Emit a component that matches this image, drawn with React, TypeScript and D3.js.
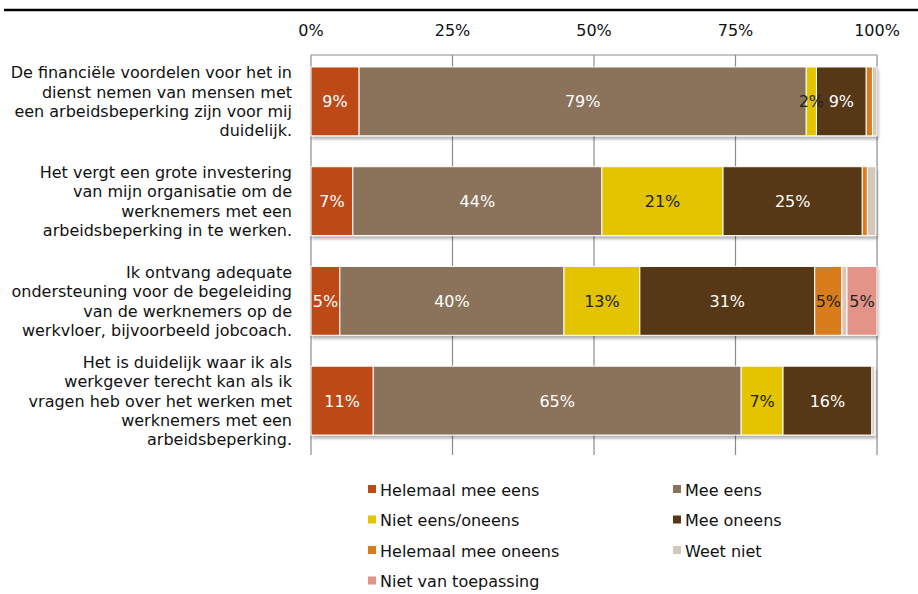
import React from "react";
import * as d3 from "d3";

const categories = [
  ["De financiële voordelen voor het in", "dienst nemen van mensen met", "een arbeidsbeperking zijn voor mij", "duidelijk."],
  ["Het vergt een grote investering", "van mijn organisatie om de", "werknemers met een", "arbeidsbeperking in te werken."],
  ["Ik ontvang adequate", "ondersteuning voor de begeleiding", "van de werknemers op de", "werkvloer, bijvoorbeeld jobcoach."],
  ["Het is duidelijk waar ik als", "werkgever terecht kan als ik", "vragen heb over het werken met", "werknemers met een", "arbeidsbeperking."],
];

const seriesNames = [
  "Helemaal mee eens",
  "Mee eens",
  "Niet eens/oneens",
  "Mee oneens",
  "Helemaal mee oneens",
  "Weet niet",
  "Niet van toepassing",
];
const seriesColors = ["#BD4A17", "#8A735A", "#E2C400", "#573715", "#D97B1F", "#D3C8B9", "#E39489"];
const labelColors = ["#fff", "#fff", "#222", "#fff", "#222", "#222", "#222"];

const helemaalMeeEens = [8.5, 7.4, 5.1, 11.0];
const meeEens = [79.0, 44.0, 39.6, 65.0];
const nietEensOneens = [1.8, 21.4, 13.4, 7.4];
const meeOneens = [8.8, 24.6, 30.9, 15.7];
const helemaalMeeOneens = [1.1, 0.9, 4.8, 0];
const weetNiet = [0.8, 1.5, 0.9, 0.5];
const nietVanToepassing = [0, 0, 5.3, 0];

const tickValues = [0, 25, 50, 75, 100];

const seriesValues = [helemaalMeeEens, meeEens, nietEensOneens, meeOneens, helemaalMeeOneens, weetNiet, nietVanToepassing];

export default function App() {
  const W = 918, H = 594;
  const x = d3.scaleLinear().domain([0, 100]).range([311, 877]);
  const y = d3.scaleBand<number>().domain(d3.range(categories.length)).range([55, 447]).paddingInner(0.31).paddingOuter(0.12);
  const font = "Verdana, 'DejaVu Sans', sans-serif";

  const stack = categories.map((_, i) => {
    let acc = 0;
    return seriesValues.map((s, k) => {
      const v = s[i];
      const seg = { k, x0: acc, x1: acc + v, v };
      acc += v;
      return seg;
    });
  });

  const legendPos = seriesNames.map((_, k) => ({
    x: k % 2 === 0 ? 368 : 673,
    y: 490 + Math.floor(k / 2) * 30.5,
  }));

  return (
    <svg width={W} height={H} style={{ position: "absolute", left: 0, top: 0, background: "#fff" }}>
      <defs>
        <filter id="sh" x="-5%" y="-20%" width="110%" height="150%">
          <feGaussianBlur in="SourceAlpha" stdDeviation="1.5" />
          <feOffset dx="1" dy="3" result="b" />
          <feComponentTransfer><feFuncA type="linear" slope="0.3" /></feComponentTransfer>
          <feMerge><feMergeNode /><feMergeNode in="SourceGraphic" /></feMerge>
        </filter>
      </defs>
      <line x1={4} x2={918} y1={10} y2={10} stroke="#000" strokeWidth={2.5} />
      {tickValues.map((t) => (
        <g key={t}>
          <text x={x(t)} y={36} textAnchor="middle" fontFamily={font} fontSize={16} fill="#111">{t}%</text>
          <line x1={x(t)} x2={x(t)} y1={55} y2={455} stroke="#8c8c8c" strokeWidth={1.2} />
        </g>
      ))}
      <line x1={x(0)} x2={x(100)} y1={55} y2={55} stroke="#8c8c8c" strokeWidth={1.2} />
      {stack.map((segs, i) => {
        const y0 = y(i)!;
        const bh = y.bandwidth();
        return (
          <g key={i}>
            <g filter="url(#sh)">
              {segs.filter((s) => s.v > 0).map((s) => (
                <rect key={s.k} x={x(s.x0)} y={y0} width={x(s.x1) - x(s.x0)} height={bh} fill={seriesColors[s.k]} stroke="#fff" strokeWidth={1} />
              ))}
            </g>
            {segs.filter((s) => s.v >= 1.6).map((s) => (
              <text key={s.k} x={(x(s.x0) + x(s.x1)) / 2} y={y0 + bh / 2 + 6} textAnchor="middle" fontFamily={font} fontSize={16} fill={labelColors[s.k]}>
                {Math.round(s.v)}%
              </text>
            ))}
            {categories[i].map((line, j) => (
              <text key={j} x={292} y={y0 + bh / 2 + 6 + (j - (categories[i].length - 1) / 2) * 19.3} textAnchor="end" fontFamily={font} fontSize={16} fill="#111">
                {line}
              </text>
            ))}
          </g>
        );
      })}
      {seriesNames.map((n, k) => (
        <g key={n}>
          <rect x={legendPos[k].x} y={legendPos[k].y - 5} width={8} height={8} fill={seriesColors[k]} />
          <text x={legendPos[k].x + 12} y={legendPos[k].y + 5.5} fontFamily={font} fontSize={16} fill="#111">{n}</text>
        </g>
      ))}
    </svg>
  );
}
